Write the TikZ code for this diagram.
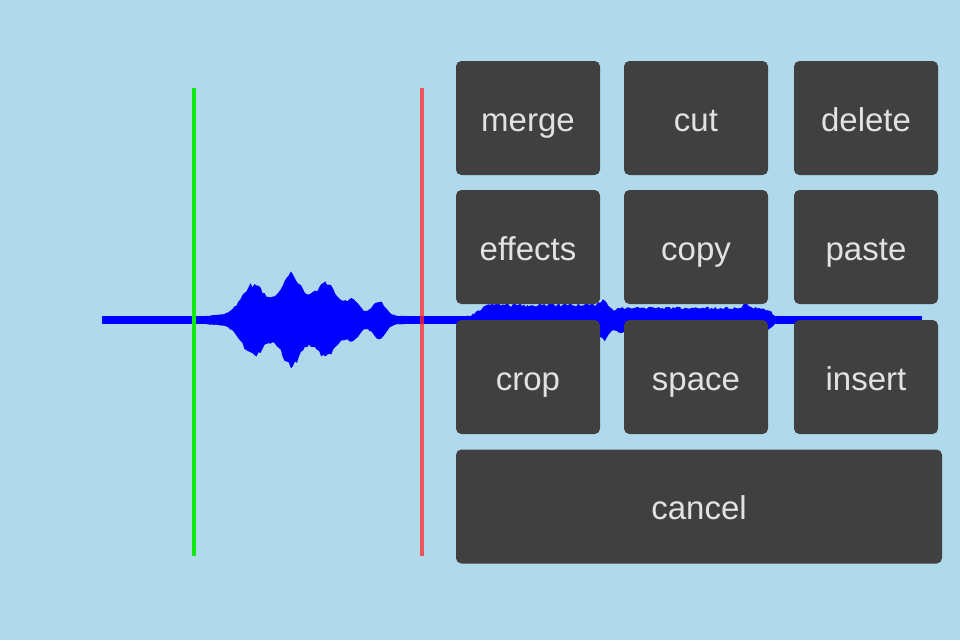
\documentclass[tikz,border=0pt]{standalone}
\usepackage{fontspec}
\setmainfont{Liberation Sans}

\definecolor{bgblue}{RGB}{176,218,235}
\definecolor{btngray}{RGB}{64,64,64}
\definecolor{btntext}{RGB}{226,226,226}
\definecolor{markgreen}{RGB}{20,232,20}
\definecolor{markred}{RGB}{255,40,40}

\tikzset{
  btn/.style={fill=btngray, text=btntext, rounded corners=4pt, inner sep=0pt,
    minimum width=108pt, minimum height=85.5pt, text height=22pt, text depth=2.5pt,
    font=\fontsize{24.75}{30}\selectfont},
  wave/.style={fill=blue}
}

% upper half of the waveform, mirrored for the lower half
\newcommand{\wavehalf}{%
  \fill[wave] (206,320) -- plot[domain=206:406, samples=100, variable=\x]
    ({\x},{320-(4+waveone(\x))*(0.93+0.14*rnd)}) -- (406,320) -- cycle;
  \fill[wave] (466,320) -- plot[domain=466:780, samples=180, variable=\x]
    ({\x},{320-(4+wavetwo(\x))*(0.88+0.24*rnd)}) -- (780,320) -- cycle;
}

\begin{document}
\begin{tikzpicture}[x=0.75pt, y=-0.75pt,
  declare function={
    gbump(\x,\c,\w)=exp(-min(((\x-\c)/\w)^2,9));
    trap(\x,\a,\b,\r)=min(1,max(0,(\x-\a)/\r))*min(1,max(0,(\b-\x)/\r));
    waveone(\x)=25*gbump(\x,252,15)+26*gbump(\x,291,12)+22*gbump(\x,327,14)
      +13*gbump(\x,353,9)+14*gbump(\x,379,9)+16*gbump(\x,296,45);
    wavetwo(\x)=11*trap(\x,470,612,18)+12*gbump(\x,605,7)+8*trap(\x,610,772,10)
      +7*gbump(\x,745,3)+4*gbump(\x,770,3);
  }]

  % background
  \fill[bgblue] (0,0) rectangle (960,640);
  \useasboundingbox (0,0) rectangle (960,640);

  % waveform
  \draw[blue, line width=6pt] (102,320) -- (922,320);
  \wavehalf
  \begin{scope}[shift={(0,640)}, yscale=-1]
    \wavehalf
  \end{scope}

  % selection markers
  \draw[markgreen, line width=3pt] (193.5,88) -- (193.5,556);
  \draw[markred, line width=3pt, opacity=0.75] (421.5,88) -- (421.5,556);

  % menu
  \node[btn] (merge) at (528,118) {merge};
  \node[btn] (cut) at (696,118) {cut};
  \node[btn] (delete) at (866,118) {delete};
  \node[btn] (effects) at (528,247) {effects};
  \node[btn] (copy) at (696,247) {copy};
  \node[btn] (paste) at (866,247) {paste};
  \node[btn] (crop) at (528,377) {crop};
  \node[btn] (space) at (696,377) {space};
  \node[btn] (insert) at (866,377) {insert};
  \node[btn, minimum width=364.5pt] (cancel) at (699,506.5) {cancel};

\end{tikzpicture}
\end{document}
